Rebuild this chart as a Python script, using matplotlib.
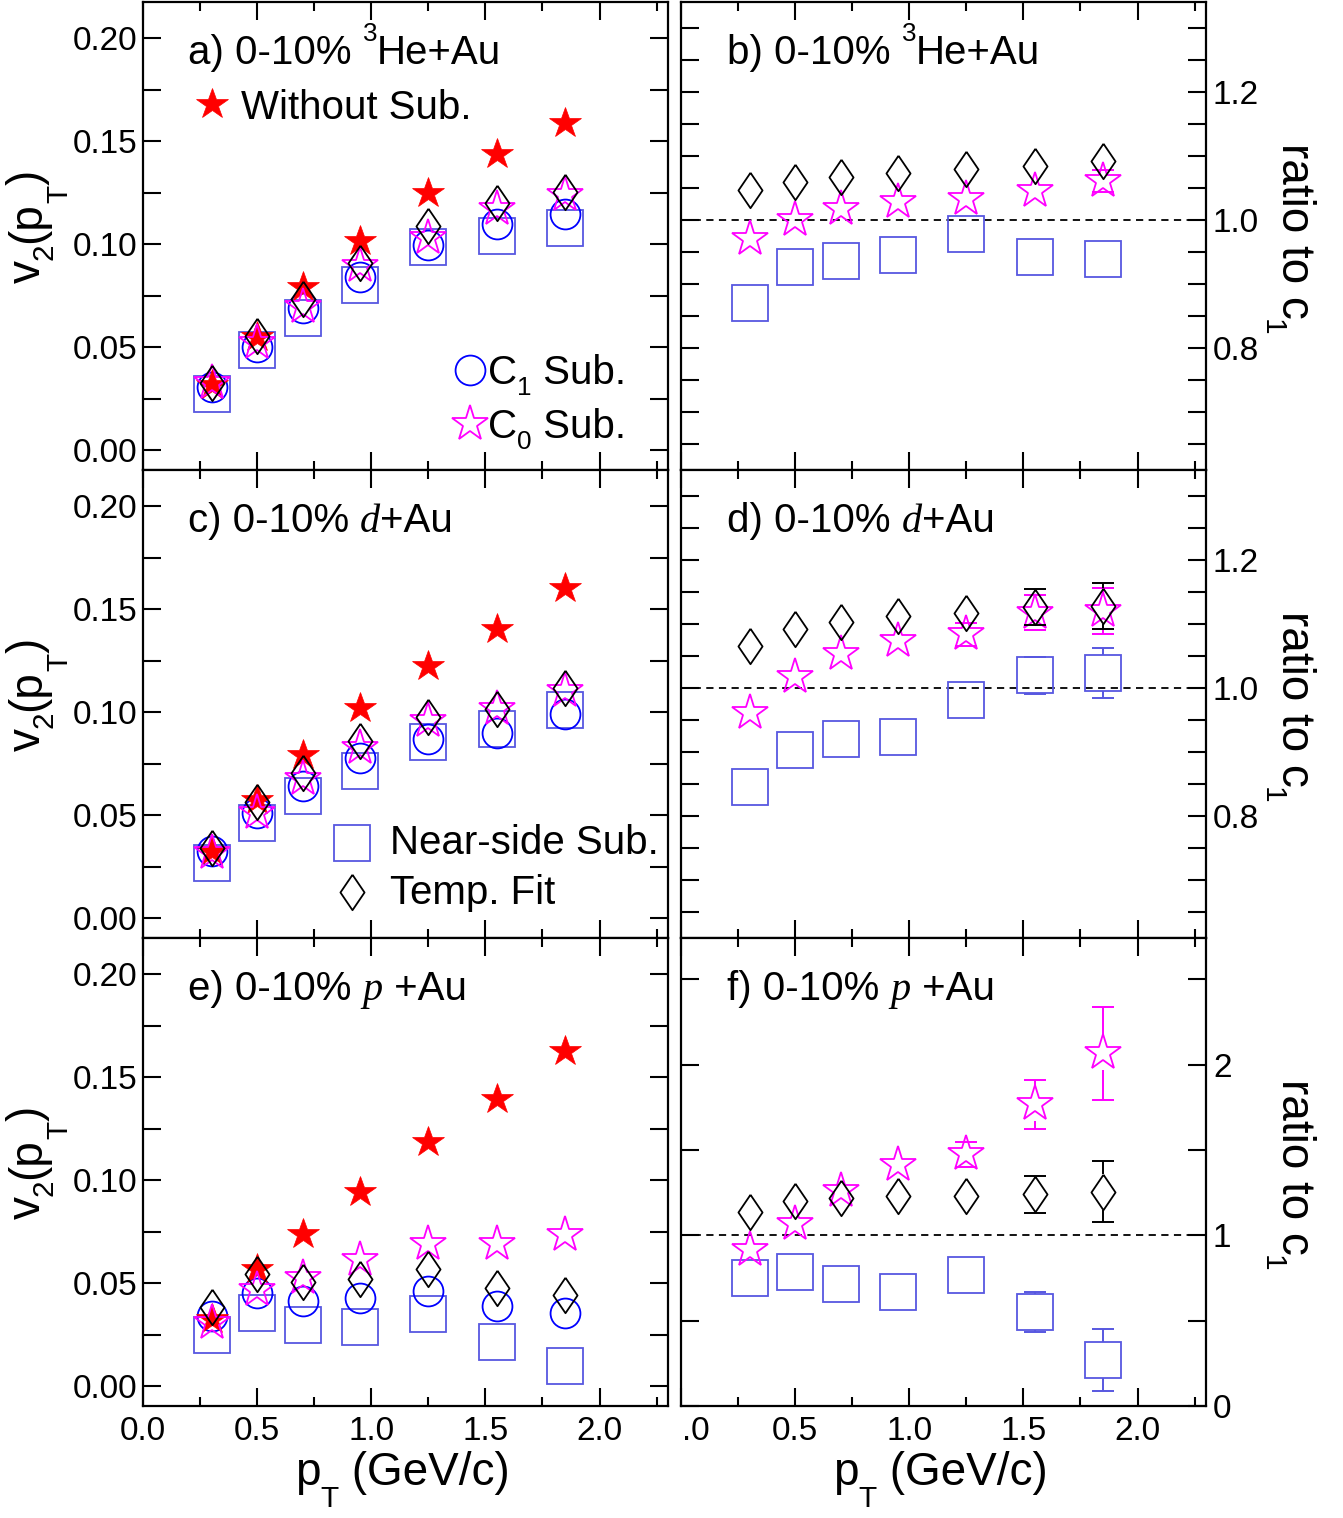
import numpy as np
import matplotlib
matplotlib.use("Agg")
import matplotlib.pyplot as plt
from matplotlib.ticker import MultipleLocator, FormatStrFormatter, FuncFormatter
from matplotlib.font_manager import FontProperties
from matplotlib.transforms import offset_copy

SANS = "Liberation Sans"
SERIF = "Liberation Serif"
plt.rcParams.update({
    "font.family": SANS,
    "axes.linewidth": 1.6,
})

# ── Data ────────────────────────────────────────────────────────────────────
pt = [0.3, 0.5, 0.7, 0.95, 1.25, 1.55, 1.85]

# a) 3He+Au v2
he_raw = [0.0317, 0.0552, 0.0795, 0.1015, 0.125, 0.144, 0.159]
he_c1 = [0.0308, 0.0503, 0.069, 0.0844, 0.0998, 0.110, 0.115]
he_c0 = [0.0325, 0.052, 0.0698, 0.0893, 0.103, 0.117, 0.124]
he_fit = [0.0325, 0.0555, 0.0734, 0.0909, 0.1088, 0.120, 0.1253]
he_near = [0.0273, 0.0487, 0.0641, 0.0804, 0.0987, 0.1039, 0.108]

# b) 3He+Au ratios to c1
he_r_fit = [1.047, 1.060, 1.067, 1.074, 1.080, 1.085, 1.093]
he_r_c0 = [0.971, 1.0, 1.017, 1.028, 1.033, 1.045, 1.061]
he_r_near = [0.871, 0.927, 0.936, 0.946, 0.979, 0.943, 0.940]
he_r_fit_err = [0, 0, 0, 0, 0, 0, 0]
he_r_c0_err = [0, 0, 0, 0, 0, 0, 0.017]
he_r_near_err = [0, 0, 0, 0, 0, 0, 0]

# c) d+Au v2
d_raw = [0.0325, 0.0576, 0.0795, 0.102, 0.1226, 0.1404, 0.1604]
d_c1 = [0.0325, 0.0511, 0.0641, 0.0779, 0.0869, 0.0901, 0.099]
d_c0 = [0.0317, 0.0511, 0.0679, 0.0828, 0.0958, 0.1015, 0.1104]
d_fit = [0.0344, 0.0563, 0.0706, 0.086, 0.0977, 0.1015, 0.1117]
d_near = [0.0271, 0.0463, 0.0593, 0.0714, 0.0856, 0.092, 0.101]

# d) d+Au ratios to c1
d_r_fit = [1.066, 1.093, 1.104, 1.112, 1.117, 1.127, 1.129]
d_r_c0 = [0.962, 1.017, 1.053, 1.074, 1.084, 1.118, 1.120]
d_r_near = [0.846, 0.904, 0.920, 0.924, 0.982, 1.020, 1.024]
d_r_fit_err = [0, 0, 0, 0, 0, 0.028, 0.036]
d_r_c0_err = [0, 0, 0, 0, 0.018, 0.027, 0.036]
d_r_near_err = [0, 0, 0, 0, 0, 0.029, 0.039]

# e) p+Au v2
p_raw = [0.0325, 0.0568, 0.0742, 0.0945, 0.1188, 0.1396, 0.1627]
p_c1 = [0.0341, 0.0455, 0.0417, 0.0427, 0.0463, 0.039, 0.0354]
p_c0 = [0.0308, 0.0468, 0.0524, 0.0614, 0.069, 0.069, 0.0735]
p_fit = [0.0385, 0.0547, 0.0508, 0.0523, 0.0568, 0.0479, 0.0446]
p_near = [0.0252, 0.0357, 0.0297, 0.0287, 0.0352, 0.0214, 0.0097]

# f) p+Au ratios to c1
p_r_fit = [1.137, 1.201, 1.221, 1.230, 1.230, 1.240, 1.256]
p_r_c0 = [0.914, 1.064, 1.26, 1.41, 1.475, 1.768, 2.066]
p_r_near = [0.748, 0.787, 0.713, 0.670, 0.766, 0.553, 0.270]
p_r_fit_err = [0, 0, 0, 0, 0, 0.11, 0.177]
p_r_c0_err = [0, 0, 0, 0, 0.074, 0.145, 0.27]
p_r_near_err = [0, 0, 0, 0, 0, 0.117, 0.18]

# ── Style ────────────────────────────────────────────────────────────────────
RED, BLUE, MAG, SQ = "#FF0000", "#0000FF", "#FF00FF", "#5757E0"
DIAMOND = [(0, 1), (0.68, 0), (0, -1), (-0.68, 0), (0, 1)]
MEW = 1.3
STY = {
    "near": dict(marker="s", ms=25.5, mfc="none", mec=SQ, mew=MEW),
    "c1": dict(marker="o", ms=21.5, mfc="none", mec=BLUE, mew=MEW),
    "raw": dict(marker="*", ms=23.5, mfc=RED, mec=RED, mew=0.5),
    "c0": dict(marker="*", ms=27.5, mfc="none", mec=MAG, mew=MEW),
    "fit": dict(marker=DIAMOND, ms=25.5, mfc="none", mec="black", mew=MEW),
}
HALF = {"near": 18, "c0": 17, "fit": 18}   # marker half heights, px
COL = {"near": SQ, "c0": MAG, "fit": "black"}

FIG_W, FIG_H = 1343, 1518
fig = plt.figure(figsize=(FIG_W / 100, FIG_H / 100), dpi=100)
W = 0.3909
bottoms = [0.6904, 0.3821, 0.0738]
H = 0.3080
axL = [fig.add_axes([0.1065, b, W, H]) for b in bottoms]
axR = [fig.add_axes([0.5071, b, W, H]) for b in bottoms]


def style_left(ax, show_x):
    ax.set_xlim(0, 2.3)
    ax.set_ylim(-0.0095, 0.2175)
    ax.xaxis.set_major_locator(MultipleLocator(0.5))
    ax.xaxis.set_minor_locator(MultipleLocator(0.25))
    ax.yaxis.set_major_locator(MultipleLocator(0.05))
    ax.yaxis.set_minor_locator(MultipleLocator(0.025))
    ax.yaxis.set_major_formatter(FormatStrFormatter("%.2f"))
    ax.xaxis.set_major_formatter(FormatStrFormatter("%.1f"))
    ax.tick_params(which="both", direction="in", top=True, right=True,
                   width=1.5, labelsize=24)
    ax.tick_params(axis="x", which="major", length=13, pad=7, labelbottom=show_x)
    ax.tick_params(axis="x", which="minor", length=6.5)
    ax.tick_params(axis="y", which="both", length=13, pad=4)


def style_right(ax, show_x, ylim, major, minor, fmt):
    ax.set_xlim(0, 2.3)
    ax.set_ylim(*ylim)
    ax.xaxis.set_major_locator(MultipleLocator(0.5))
    ax.xaxis.set_minor_locator(MultipleLocator(0.25))
    ax.yaxis.set_major_locator(MultipleLocator(major))
    ax.yaxis.set_minor_locator(MultipleLocator(minor))
    ax.yaxis.set_major_formatter(FormatStrFormatter(fmt))
    ax.xaxis.set_major_formatter(FuncFormatter(lambda v, p: "" if abs(v) < 1e-9 else f"{v:.1f}"))
    ax.tick_params(which="both", direction="in", top=True, right=True,
                   left=True, labelleft=False, labelright=True,
                   width=1.5, labelsize=24)
    ax.tick_params(axis="x", which="major", length=13, pad=7, labelbottom=show_x)
    ax.tick_params(axis="x", which="minor", length=6.5)
    ax.tick_params(axis="y", which="both", length=13, pad=5)
    ax.axhline(1.0, color="black", lw=1.3, ls=(0, (4, 3)), zorder=1)
    if show_x:
        # the "0.0" label of the right pad is cut by the left pad in the original
        ax.annotate(".0", xy=(0, 0), xycoords="axes fraction", xytext=(1, -7),
                    textcoords="offset points", ha="left", va="top", fontsize=24)


style_left(axL[0], False)
style_left(axL[1], False)
style_left(axL[2], True)
style_right(axR[0], False, (0.61, 1.34), 0.2, 0.05, "%.1f")
style_right(axR[1], False, (0.61, 1.34), 0.2, 0.05, "%.1f")
style_right(axR[2], True, (0, 2.74), 1.0, 0.5, "%.0f")


def draw_v2(ax, near, c1, raw, c0, fit):
    for key, vals in (("near", near), ("c1", c1), ("raw", raw), ("c0", c0), ("fit", fit)):
        ax.plot(pt, vals, ls="none", **STY[key])


def draw_ratio(ax, series):
    px = ax.transData.transform((0, 1))[1] - ax.transData.transform((0, 0))[1]
    for key, vals, errs in series:
        ax.plot(pt, vals, ls="none", **STY[key])
        h = HALF[key] / px
        for x, y, e in zip(pt, vals, errs):
            if e <= 0:
                continue
            if e > h:
                ax.vlines(x, y + h, y + e, color=COL[key], lw=1.4)
                ax.vlines(x, y - e, y - h, color=COL[key], lw=1.4)
            ax.plot([x, x], [y - e, y + e], ls="none", marker="_", ms=16,
                    mew=1.4, color=COL[key])


draw_v2(axL[0], he_near, he_c1, he_raw, he_c0, he_fit)
draw_v2(axL[1], d_near, d_c1, d_raw, d_c0, d_fit)
draw_v2(axL[2], p_near, p_c1, p_raw, p_c0, p_fit)

draw_ratio(axR[0], [("near", he_r_near, he_r_near_err), ("c0", he_r_c0, he_r_c0_err),
                    ("fit", he_r_fit, he_r_fit_err)])
draw_ratio(axR[1], [("near", d_r_near, d_r_near_err), ("c0", d_r_c0, d_r_c0_err),
                    ("fit", d_r_fit, d_r_fit_err)])
draw_ratio(axR[2], [("near", p_r_near, p_r_near_err), ("c0", p_r_c0, p_r_c0_err),
                    ("fit", p_r_fit, p_r_fit_err)])

# ── ROOT-like rich text (sub/superscripts placed by hand) ───────────────────
renderer = fig.canvas.get_renderer()


def advance(s, fp):
    w1 = renderer.get_text_width_height_descent("x" + s + "x", fp, ismath=False)[0]
    w0 = renderer.get_text_width_height_descent("xx", fp, ismath=False)[0]
    return w1 - w0


def rich(trans, x, y, parts, fs, rotation=0):
    """parts: (text, size scale, baseline shift in em, family, style)"""
    th = np.deg2rad(rotation)
    d = np.array([np.cos(th), np.sin(th)])
    u = np.array([-np.sin(th), np.cos(th)])
    em = fs * fig.dpi / 72
    pos = 0.0
    for part in parts:
        s, sc, sh = part[:3]
        fam = part[3] if len(part) > 3 else SANS
        sty = part[4] if len(part) > 4 else "normal"
        fp = FontProperties(family=fam, style=sty, size=fs * sc)
        off = d * pos + u * sh * em
        tr = offset_copy(trans, fig=fig, x=off[0], y=off[1], units="dots")
        fig.text(x, y, s, transform=tr, fontproperties=fp, rotation=rotation,
                 rotation_mode="anchor", ha="left", va="baseline")
        pos += advance(s, fp)


SUB, SUP = 0.65, 0.65

# ── Panel labels ────────────────────────────────────────────────────────────
FS = 29
he_lab = [("3", SUP, 0.57), ("He+Au", 1, 0)]
rich(axL[0].transAxes, 0.0857, 0.868, [("a) 0-10% ", 1, 0)] + he_lab, FS)
rich(axR[0].transAxes, 0.0876, 0.868, [("b) 0-10% ", 1, 0)] + he_lab, FS)
rich(axL[1].transAxes, 0.0857, 0.868,
     [("c) 0-10% ", 1, 0), ("d", 1, 0, SERIF, "italic"), ("+Au", 1, 0)], FS)
rich(axR[1].transAxes, 0.0876, 0.868,
     [("d) 0-10% ", 1, 0), ("d", 1, 0, SERIF, "italic"), ("+Au", 1, 0)], FS)
rich(axL[2].transAxes, 0.0857, 0.868,
     [("e) 0-10% ", 1, 0), ("p", 1, 0, SERIF, "italic"), (" +Au", 1, 0)], FS)
rich(axR[2].transAxes, 0.0876, 0.868,
     [("f) 0-10% ", 1, 0), ("p", 1, 0, SERIF, "italic"), (" +Au", 1, 0)], FS)

# ── Legends ─────────────────────────────────────────────────────────────────
a = axL[0]
a.plot([0.1314], [0.782], transform=a.transAxes, ls="none", **STY["raw"])
a.text(0.1867, 0.7516, "Without Sub.", transform=a.transAxes, fontsize=FS, va="baseline")
a.plot([0.623], [0.214], transform=a.transAxes, ls="none", **STY["c1"])
rich(a.transAxes, 0.657, 0.184, [("C", 1, 0), ("1", SUB, -0.28), (" Sub.", 1, 0)], FS)
a.plot([0.623], [0.0985], transform=a.transAxes, ls="none", **STY["c0"])
rich(a.transAxes, 0.657, 0.0685, [("C", 1, 0), ("0", SUB, -0.28), (" Sub.", 1, 0)], FS)

c = axL[1]
c.plot([0.399], [0.203], transform=c.transAxes, ls="none", **STY["near"])
c.text(0.4705, 0.1795, "Near-side Sub.", transform=c.transAxes, fontsize=FS, va="baseline")
c.plot([0.399], [0.098], transform=c.transAxes, ls="none", **STY["fit"])
c.text(0.4705, 0.0726, "Temp. Fit", transform=c.transAxes, fontsize=FS, va="baseline")

# ── Axis titles ─────────────────────────────────────────────────────────────
AFS = 33
v2_parts = [("v", 1, 0), ("2", SUB, -0.27), ("(p", 1, 0), ("T", SUB, -0.6), (")", 1, 0)]
ratio_parts = [("ratio to c", 1, 0), ("1", SUB, -0.4)]
pt_parts = [("p", 1, 0), ("T", SUB, -0.48), (" (GeV/c)", 1, 0)]
for ax in axL:
    y0 = ax.get_position().y0 * FIG_H            # panel bottom, px from bottom
    rich(fig.transFigure, 40 / FIG_W, (y0 + 187) / FIG_H, v2_parts, AFS, rotation=90)
for ax in axR:
    y1 = ax.get_position().y1 * FIG_H            # panel top, px from bottom
    rich(fig.transFigure, 1282 / FIG_W, (y1 - 141) / FIG_H, ratio_parts, AFS, rotation=-90)
for ax in (axL[2], axR[2]):
    x0 = ax.get_position().x0 * FIG_W
    rich(fig.transFigure, (x0 + 152) / FIG_W, 1 - 1485 / FIG_H, pt_parts, AFS)

fig.savefig("out.png", dpi=100)
